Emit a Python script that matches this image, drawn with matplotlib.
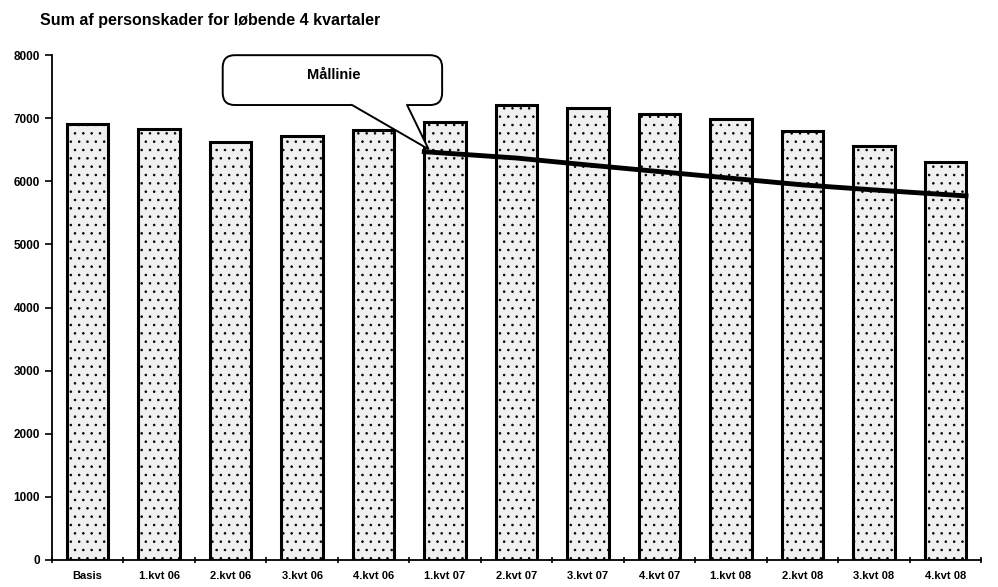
import matplotlib
matplotlib.use("Agg")
import matplotlib.pyplot as plt
from matplotlib.ticker import FixedLocator
from matplotlib.patches import FancyBboxPatch, Polygon

categories = ["Basis", "1.kvt 06", "2.kvt 06", "3.kvt 06", "4.kvt 06", "1.kvt 07",
              "2.kvt 07", "3.kvt 07", "4.kvt 07", "1.kvt 08", "2.kvt 08", "3.kvt 08", "4.kvt 08"]
values = [6910, 6830, 6625, 6720, 6815, 6945, 7210, 7160, 7065, 6990, 6800, 6565, 6310]
target_cats = ["1.kvt 07", "2.kvt 07", "3.kvt 07", "4.kvt 07", "1.kvt 08", "2.kvt 08", "3.kvt 08", "4.kvt 08"]
target_vals = [6470, 6370, 6260, 6155, 6050, 5945, 5865, 5770]
yticks = [0, 1000, 2000, 3000, 4000, 5000, 6000, 7000, 8000]

plt.rcParams['font.family'] = ['Liberation Sans', 'DejaVu Sans']
plt.rcParams['hatch.color'] = '#777777'
plt.rcParams['hatch.linewidth'] = 0.6

fig = plt.figure(figsize=(9.98, 5.87), dpi=100)
ax = fig.add_axes([0.052, 0.046, 0.931, 0.860])

x = list(range(len(categories)))
ax.bar(x, values, width=0.58, color='#f0f0f0', edgecolor='black', linewidth=2.2, hatch='..', zorder=2)

tx = [categories.index(c) for c in target_cats]
txx = [tx[0] - 0.29] + tx[1:-1] + [tx[-1] + 0.29]
ax.plot(txx, target_vals, color='black', linewidth=3.5, zorder=3)

ax.set_xlim(-0.5, len(categories) - 0.5)
ax.set_ylim(0, 8000)
ax.set_yticks(yticks)
ax.set_yticklabels([str(v) for v in yticks], fontsize=8.5, fontweight='bold')
ax.set_xticks(x)
ax.set_xticklabels(categories, fontsize=8, fontweight='bold')
ax.tick_params(axis='x', which='major', length=0, pad=8)
ax.xaxis.set_minor_locator(FixedLocator([i + 0.5 for i in range(-1, len(categories))]))
ax.tick_params(axis='x', which='minor', length=4, width=1.2, direction='inout')
ax.tick_params(axis='y', length=5, width=1.2, direction='out')
for s in ['top', 'right']:
    ax.spines[s].set_visible(False)
ax.spines['left'].set_linewidth(1.3)
ax.spines['bottom'].set_linewidth(1.3)

# callout
bx0, bx1, by0, by1 = 1.89, 4.96, 7210, 8000
box = FancyBboxPatch((bx0, by0), bx1 - bx0, by1 - by0,
                     boxstyle='round,pad=0,rounding_size=0.17', mutation_aspect=1131,
                     fc='white', ec='black', lw=1.4, zorder=5, clip_on=False)
ax.add_patch(box)
tip = (4.77, 6510)
t1, t2 = (3.70, by0), (4.47, by0)
ax.add_patch(Polygon([t1, tip, t2], closed=True, fc='white', ec='none', zorder=6, clip_on=False))
ax.plot([t1[0], tip[0], t2[0]], [t1[1], tip[1], t2[1]], color='black', lw=1.4, zorder=7,
        solid_joinstyle='miter')
ax.plot([t1[0] + 0.015, t2[0] - 0.015], [by0, by0], color='white', lw=2.2, zorder=6.5)
ax.text(3.45, 7680, "Mållinie", fontsize=10.5, fontweight='bold',
        ha='center', va='center', zorder=8)

fig.text(0.04, 0.965, "Sum af personskader for løbende 4 kvartaler", fontsize=11.5,
         fontweight='bold', ha='left', va='center')

fig.savefig("out.png", dpi=100)
